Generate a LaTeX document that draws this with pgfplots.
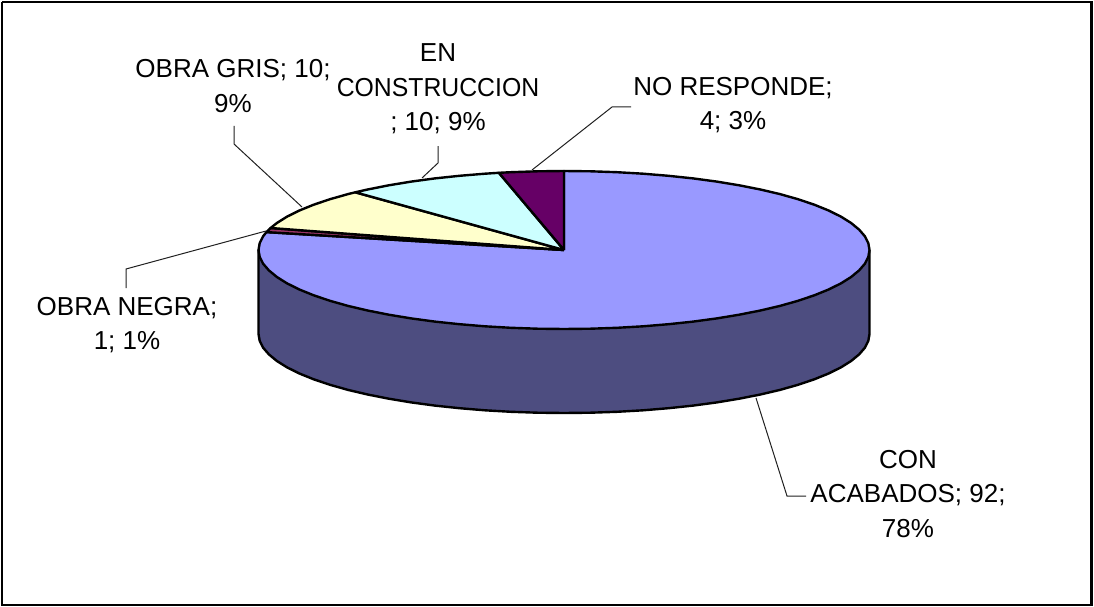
\documentclass[border=0pt]{standalone}
\usepackage{pgfplots}
\pgfplotsset{compat=1.18}
\usepackage{fontspec}
\setmainfont{Liberation Sans}
\definecolor{cBig}{HTML}{9999FF}
\definecolor{cSide}{HTML}{4D4D80}
\definecolor{cNeg}{HTML}{993366}
\definecolor{cGris}{HTML}{FFFFCC}
\definecolor{cCons}{HTML}{CCFFFF}
\definecolor{cNo}{HTML}{660066}
\definecolor{cLead}{HTML}{202020}
\tikzset{
  lbl/.style={font=\fontsize{26}{34.5}\selectfont, align=center, text=black, inner sep=0pt},
  slice/.style={draw=black, line width=2.4pt, line join=round},
  lead/.style={draw=cLead, line width=1pt},
}
\begin{document}
\begin{tikzpicture}[x=1pt,y=1pt]
\useasboundingbox (0,0) rectangle (1094pt,607pt);
\begin{axis}[
  at={(0,0)}, anchor=south west,
  width=1094pt, height=607pt, scale only axis,
  xmin=0, xmax=1094, ymin=0, ymax=607, y dir=reverse,
  hide axis, clip=false,
]
% frame
\addplot[draw=black, line width=2.6pt] coordinates {(2,2) (1091.5,2) (1091.5,605) (2,605) (2,2)};
% side wall
\addplot[slice, fill=cSide] coordinates {
(869.5,250) (869.5,334) (868.3,340.9) (864.9,347.7) (859.1,354.4) (851.1,361.0) (840.9,367.4) (828.6,373.5)
(814.3,379.3) (798.0,384.8) (780.0,389.9) (760.4,394.5) (739.2,398.7) (716.8,402.4) (693.1,405.6) (668.5,408.2)
(643.1,410.3) (617.0,411.8) (590.6,412.7) (564,413) (537.4,412.7) (511.0,411.8) (484.9,410.3) (459.5,408.2)
(434.9,405.6) (411.2,402.4) (388.8,398.7) (367.6,394.5) (348.0,389.9) (330.0,384.8) (313.7,379.3) (299.4,373.5)
(287.1,367.4) (276.9,361.0) (268.9,354.4) (263.1,347.7) (259.7,340.9) (258.5,334) (258.5,250) (869.5,250)};
% CON ACABADOS 92
\addplot[slice, fill=cBig] coordinates {
(564,250) (564,171) (590.6,171.3) (617.0,172.2) (643.1,173.7) (668.5,175.8) (693.1,178.4) (716.8,181.6) (739.2,185.3)
(760.4,189.5) (780.0,194.1) (798.0,199.2) (814.3,204.7) (828.6,210.5) (840.9,216.6) (851.1,223.0) (859.1,229.6)
(864.9,236.3) (868.3,243.1) (869.5,250) (868.3,256.9) (864.9,263.7) (859.1,270.4) (851.1,277.0) (840.9,283.4)
(828.6,289.5) (814.3,295.3) (798.0,300.8) (780.0,305.9) (760.4,310.5) (739.2,314.7) (716.8,318.4) (693.1,321.6)
(668.5,324.2) (643.1,326.3) (617.0,327.8) (590.6,328.7) (564,329) (537.4,328.7) (511.0,327.8) (484.9,326.3)
(459.5,324.2) (434.9,321.6) (411.2,318.4) (388.8,314.7) (367.6,310.5) (348.0,305.9) (330.0,300.8) (313.7,295.3)
(299.4,289.5) (287.1,283.4) (276.9,277.0) (268.9,270.4) (263.1,263.7) (259.7,256.9) (258.5,250) (259.7,243.1)
(263.1,236.3) (266.4,232.1) (564,250)};
% OBRA NEGRA 1
\addplot[slice, fill=cNeg] coordinates {(564,250) (266.4,232.1) (270.6,228.0) (564,250)};
% OBRA GRIS 10
\addplot[slice, fill=cGris] coordinates {(564,250) (270.6,228.0) (276.9,223.0) (287.1,216.6) (299.4,210.5) (313.7,204.7) (330.0,199.2) (348.0,194.1) (355.3,192.3) (564,250)};
% EN CONSTRUCCION 10
\addplot[slice, fill=cCons] coordinates {(564,250) (355.3,192.3) (367.6,189.5) (388.8,185.3) (411.2,181.6) (434.9,178.4) (459.5,175.8) (484.9,173.7) (498.9,172.8) (564,250)};
% NO RESPONDE 4
\addplot[slice, fill=cNo] coordinates {(564,250) (498.9,172.8) (511.0,172.2) (537.4,171.3) (564,171) (564,250)};
% leader lines
\addplot[lead] coordinates {(756,398) (787,496) (806,496)};
\addplot[lead] coordinates {(532,170) (612,107) (631,107)};
\addplot[lead] coordinates {(422,178) (438,163) (438,146)};
\addplot[lead] coordinates {(302,207) (234,144) (234,126)};
\addplot[lead] coordinates {(266,231) (126,269) (126,288)};
% labels
\node[lbl] at (axis cs:908,494) {CON\\ACABADOS; 92;\\78\%};
\node[lbl] at (axis cs:733,105) {NO RESPONDE;\\4; 3\%};
\node[lbl] at (axis cs:438,89) {EN\\\scalebox{0.953}[1]{CONSTRUCCION}\\; 10; 9\%};
\node[lbl] at (axis cs:233,86) {OBRA GRIS; 10;\\9\%};
\node[lbl] at (axis cs:127,325) {OBRA NEGRA;\\1; 1\%};
\end{axis}
\end{tikzpicture}
\end{document}
